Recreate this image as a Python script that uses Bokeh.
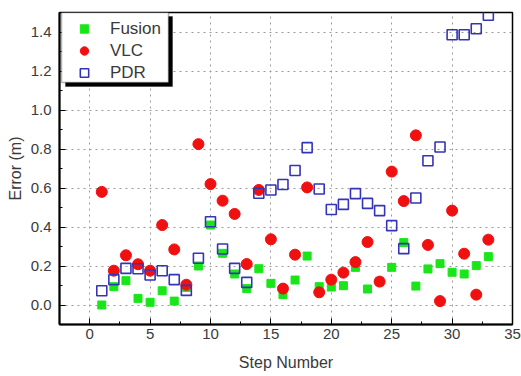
from bokeh.plotting import figure
from bokeh.models import (Range1d, SingleIntervalTicker, PrintfTickFormatter, Legend,
                          LegendItem, BoxAnnotation)
from bokeh.embed import file_html
from bokeh.resources import INLINE

steps = list(range(1, 34))
fusion = [0.0, 0.094, 0.125, 0.034, 0.014, 0.073, 0.02, 0.09, 0.2, 0.41, 0.265,
          0.159, 0.084, 0.186, 0.111, 0.053, 0.128, 0.251, 0.094, 0.092, 0.099,
          0.193, 0.082, 0.12, 0.193, 0.32, 0.097, 0.185, 0.212, 0.168, 0.159,
          0.202, 0.248]
vlc = [0.58, 0.176, 0.255, 0.209, 0.176, 0.41, 0.285, 0.104, 0.825, 0.62, 0.535,
       0.467, 0.21, 0.59, 0.337, 0.084, 0.258, 0.603, 0.065, 0.13, 0.166, 0.22,
       0.323, 0.12, 0.684, 0.533, 0.87, 0.308, 0.02, 0.484, 0.263, 0.053, 0.335]
pdr = [0.073, 0.13, 0.188, 0.186, 0.154, 0.176, 0.13, 0.075, 0.24, 0.427, 0.287,
       0.188, 0.116, 0.573, 0.59, 0.618, 0.69, 0.807, 0.595, 0.49, 0.516, 0.571,
       0.521, 0.484, 0.407, 0.289, 0.549, 0.74, 0.81, 1.386, 1.386, 1.417, 1.486]
series_names = ["Fusion", "VLC", "PDR"]

FONT = "Liberation Sans"
TXT = "#3a3a3a"

p = figure(width=521, height=376, output_backend="svg", toolbar_location=None,
           x_range=Range1d(-2.5, 35), y_range=Range1d(-0.1, 1.5),
           min_border_left=59, min_border_right=9, min_border_top=12,
           min_border_bottom=52)
p.outline_line_color = "black"
p.outline_line_width = 1.5

r_f = p.scatter(steps, fusion, marker="square", size=8, fill_color="#19e619",
                line_color="#19e619")
r_v = p.scatter(steps, vlc, marker="circle", size=11, fill_color="#f01010",
                line_color="#f01010")
r_p = p.scatter(steps, pdr, marker="square", size=10, fill_color=None,
                line_color="#3434b8", line_width=1.6)

p.xaxis.ticker = SingleIntervalTicker(interval=5, num_minor_ticks=2)
p.yaxis.ticker = SingleIntervalTicker(interval=0.2, num_minor_ticks=2)
p.yaxis.formatter = PrintfTickFormatter(format="%.1f")
p.xaxis.axis_label = "Step Number"
p.yaxis.axis_label = "Error (m)"

for ax in (p.xaxis, p.yaxis):
    ax.axis_line_color = "black"
    ax.axis_line_width = 2
    ax.major_tick_in = 6
    ax.major_tick_out = 0
    ax.minor_tick_in = 3
    ax.minor_tick_out = 0
    ax.major_tick_line_color = "black"
    ax.minor_tick_line_color = "black"
    ax.major_label_text_font = FONT
    ax.major_label_text_font_size = "15px"
    ax.major_label_text_color = TXT
    ax.axis_label_text_font = FONT
    ax.axis_label_text_font_size = "16px"
    ax.axis_label_text_font_style = "normal"
    ax.axis_label_text_color = TXT
p.xaxis.major_label_standoff = 4
p.xaxis.axis_label_standoff = 12
p.yaxis.major_label_standoff = 8
p.yaxis.axis_label_standoff = 4

for g in (p.xgrid, p.ygrid):
    g.grid_line_color = "#9a9a9a"
    g.grid_line_dash = "2 4"
    g.grid_line_width = 1

# legend frame with drop shadow (screen units, relative to the plot frame)
shadow = BoxAnnotation(left=6, right=113, top=308, bottom=238,
                       left_units="screen", right_units="screen",
                       top_units="screen", bottom_units="screen",
                       fill_color="black", fill_alpha=1, line_color="black")
box = BoxAnnotation(left=2, right=109, top=312, bottom=242,
                    left_units="screen", right_units="screen",
                    top_units="screen", bottom_units="screen",
                    fill_color="white", fill_alpha=1, line_color="black",
                    line_width=1.5)
p.add_layout(shadow)
p.add_layout(box)

legend = Legend(items=[LegendItem(label=series_names[0], renderers=[r_f]),
                       LegendItem(label=series_names[1], renderers=[r_v]),
                       LegendItem(label=series_names[2], renderers=[r_p])],
                location="top_left", margin=2, padding=4, spacing=1,
                label_height=21, glyph_height=21, glyph_width=38,
                label_standoff=7, label_width=56,
                label_text_font=FONT, label_text_font_size="17px",
                label_text_color=TXT,
                background_fill_alpha=0, border_line_alpha=0)
p.add_layout(legend, "center")

open("out.html", "w").write(file_html(p, INLINE))
